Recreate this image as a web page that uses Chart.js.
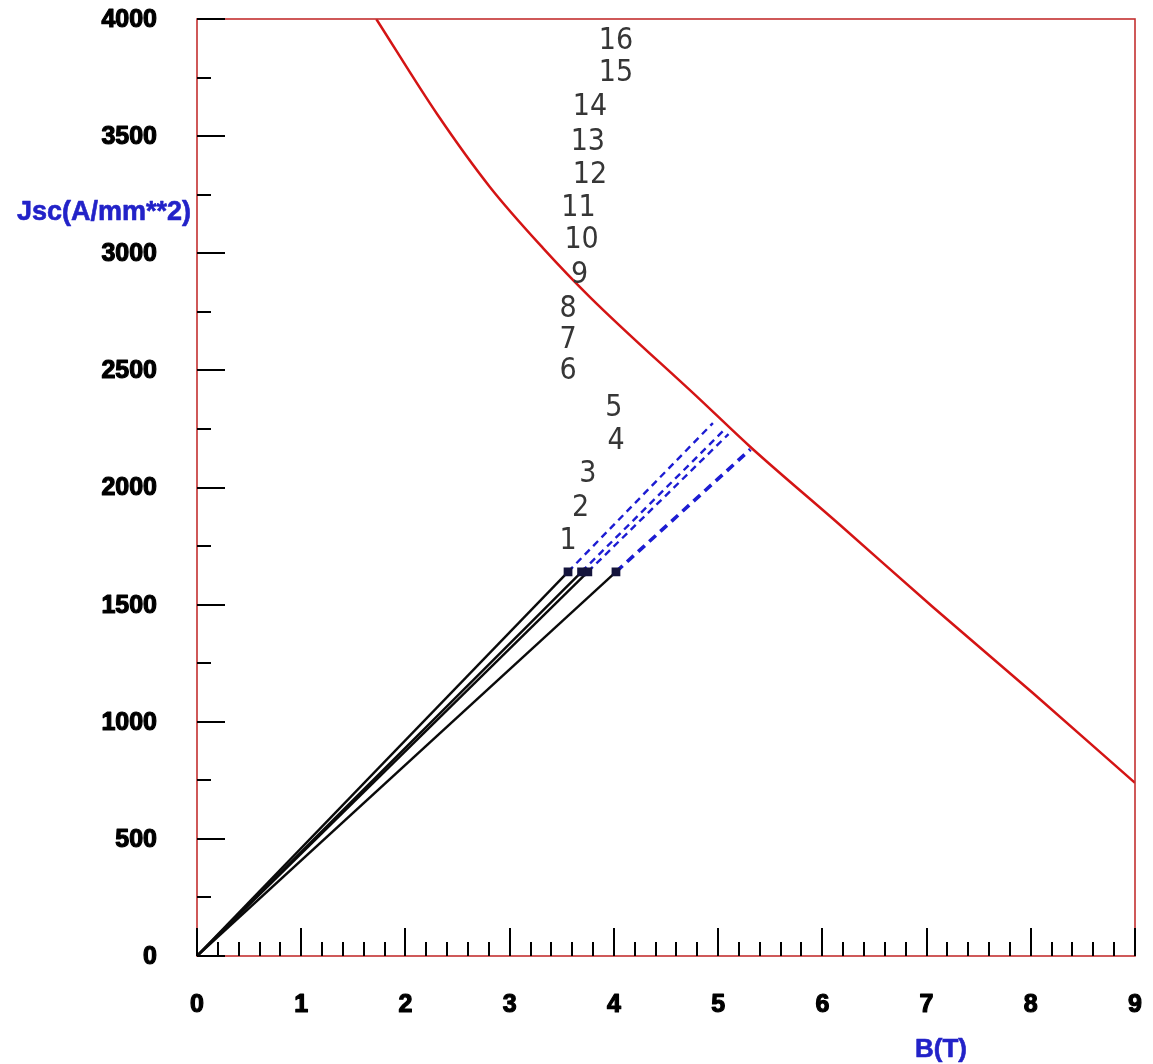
<!DOCTYPE html>
<html>
<head>
<meta charset="utf-8">
<title>Jsc vs B load lines</title>
<script src="https://cdn.jsdelivr.net/npm/chart.js@4"></script>
<style>
  html, body { margin: 0; padding: 0; background: #ffffff; }
  #wrap { width: 1153px; height: 1064px; position: relative; }
</style>
</head>
<body>
<div id="wrap"><canvas id="c" width="1153" height="1064"></canvas></div>
<script>
// Critical current density curve Jsc(B)
const critB = [1.72, 2.31, 2.81, 3.32, 3.77, 4.83, 5.31, 6.17, 7.06, 8.02, 9.00];
const critJ = [4000, 3590, 3283, 3022, 2813, 2374, 2173, 1840, 1490, 1123, 739];

// Operating points of the four load lines (B at the operating current)
const opB = [3.56, 3.69, 3.75, 4.02];
const opJ = [1640, 1640, 1640, 1640];

// Where each load line meets the critical curve
const quenchB = [4.95, 5.07, 5.10, 5.31];
const quenchJ = [2275, 2251, 2228, 2163];

// Layer numbers and their anchor points (B, J)
const layerNames = ['1','2','3','4','5','6','7','8','9','10','11','12','13','14','15','16'];
const layerB = [3.56, 3.68, 3.75, 4.02, 4.00, 3.56, 3.56, 3.56, 3.67, 3.69, 3.66, 3.77, 3.75, 3.77, 4.02, 4.02];
const layerJ = [1772, 1912, 2058, 2199, 2339, 2497, 2630, 2762, 2907, 3057, 3193, 3334, 3475, 3624, 3770, 3906];

// Axis ticks and their labels
const xTickValues = [0, 1, 2, 3, 4, 5, 6, 7, 8, 9];
const xTickLabels = ['0', '1', '2', '3', '4', '5', '6', '7', '8', '9'];
const yTickValues = [0, 500, 1000, 1500, 2000, 2500, 3000, 3500, 4000];
const yTickLabels = ['0', '500', '1000', '1500', '2000', '2500', '3000', '3500', '4000'];
const xMinorStep = 0.2;
const yMinorStep = 250;

const xTitle = 'B(T)';
const yTitle = 'Jsc(A/mm**2)';

const datasets = [];

datasets.push({
  label: 'critical',
  data: critB.map((b, i) => ({ x: b, y: critJ[i] })),
  borderColor: '#d41414',
  borderWidth: 2.5,
  pointRadius: 0,
  tension: 0.4,
  cubicInterpolationMode: 'monotone',
  order: 3
});

opB.forEach((b, i) => {
  datasets.push({
    label: 'load' + (i + 1),
    data: [{ x: 0, y: 0 }, { x: b, y: opJ[i] }],
    borderColor: '#0a0a0a',
    borderWidth: 2.4,
    pointRadius: [0, 4.5],
    pointStyle: 'rect',
    pointBackgroundColor: '#14143c',
    pointBorderColor: '#14143c',
    order: 1
  });
  datasets.push({
    label: 'margin' + (i + 1),
    data: [{ x: b, y: opJ[i] }, { x: quenchB[i], y: quenchJ[i] }],
    borderColor: '#1c1cd2',
    borderWidth: i === 3 ? 3.6 : 2.4,
    borderDash: i === 3 ? [9, 6] : [7, 5],
    pointRadius: 0,
    order: 2
  });
});

const labelFont = 'bold 25px "Liberation Sans", Arial, sans-serif';

function heavyText(ctx, text, x, y) {
  ctx.strokeText(text, x, y);
  ctx.fillText(text, x, y);
}

// Frame, inward tick marks, tick labels, layer numbers and axis titles
const decorations = {
  id: 'decorations',
  afterDatasetsDraw(chart) {
    const { ctx, chartArea: a, scales } = chart;
    const xs = scales.x, ys = scales.y;
    ctx.save();

    // frame
    ctx.strokeStyle = '#c43030';
    ctx.lineWidth = 1.6;
    ctx.strokeRect(a.left, a.top, a.right - a.left, a.bottom - a.top);

    // ticks
    ctx.strokeStyle = '#000000';
    ctx.lineWidth = 2;
    ctx.beginPath();
    const nx = Math.round((xs.max - xs.min) / xMinorStep);
    for (let k = 0; k <= nx; k++) {
      const v = xs.min + k * xMinorStep;
      const major = xTickValues.some(t => Math.abs(t - v) < 1e-6);
      const px = Math.round(xs.getPixelForValue(v));
      ctx.moveTo(px, a.bottom);
      ctx.lineTo(px, a.bottom - (major ? 28 : 14));
    }
    const ny = Math.round((ys.max - ys.min) / yMinorStep);
    for (let k = 0; k <= ny; k++) {
      const v = ys.min + k * yMinorStep;
      const major = yTickValues.some(t => Math.abs(t - v) < 1e-6);
      const py = Math.round(ys.getPixelForValue(v));
      ctx.moveTo(a.left, py);
      ctx.lineTo(a.left + (major ? 28 : 14), py);
    }
    ctx.stroke();

    // tick labels
    ctx.fillStyle = '#000000';
    ctx.strokeStyle = '#000000';
    ctx.lineWidth = 1.2;
    ctx.lineJoin = 'round';
    ctx.font = labelFont;
    ctx.textBaseline = 'middle';
    ctx.textAlign = 'center';
    xTickValues.forEach((v, i) => {
      heavyText(ctx, xTickLabels[i], xs.getPixelForValue(v), a.bottom + 49);
    });
    ctx.textAlign = 'right';
    yTickValues.forEach((v, i) => {
      heavyText(ctx, yTickLabels[i], a.left - 40, ys.getPixelForValue(v) + 1);
    });

    // layer numbers
    ctx.fillStyle = '#363636';
    ctx.font = '30px "Liberation Sans Narrow", "DejaVu Sans Condensed", "Liberation Sans", sans-serif';
    ctx.textAlign = 'center';
    ctx.textBaseline = 'middle';
    layerNames.forEach((t, i) => {
      ctx.fillText(t, xs.getPixelForValue(layerB[i]), ys.getPixelForValue(layerJ[i]));
    });

    // axis titles
    ctx.fillStyle = '#2222c8';
    ctx.strokeStyle = '#2222c8';
    ctx.lineWidth = 0.6;
    ctx.textAlign = 'center';
    ctx.font = 'bold 27px "Liberation Sans", Arial, sans-serif';
    heavyText(ctx, yTitle, 104, 213);
    ctx.font = 'bold 26px "Liberation Sans", Arial, sans-serif';
    heavyText(ctx, xTitle, 941, 1050);
    ctx.restore();
  }
};

new Chart(document.getElementById('c'), {
  type: 'line',
  data: { datasets },
  options: {
    responsive: false,
    animation: false,
    devicePixelRatio: 1,
    layout: { padding: { top: 19, right: 18, left: 0, bottom: 0 } },
    plugins: { legend: { display: false }, tooltip: { enabled: false } },
    scales: {
      x: {
        type: 'linear',
        min: 0, max: 9,
        grid: { display: false, drawTicks: false },
        border: { display: false },
        ticks: { display: false },
        afterFit: s => { s.height = 108; s.paddingLeft = 0; s.paddingRight = 0; }
      },
      y: {
        type: 'linear',
        min: 0, max: 4000,
        grid: { display: false, drawTicks: false },
        border: { display: false },
        ticks: { display: false },
        afterFit: s => { s.width = 197; s.paddingTop = 0; s.paddingBottom = 0; }
      }
    }
  },
  plugins: [decorations]
});
</script>
</body>
</html>
